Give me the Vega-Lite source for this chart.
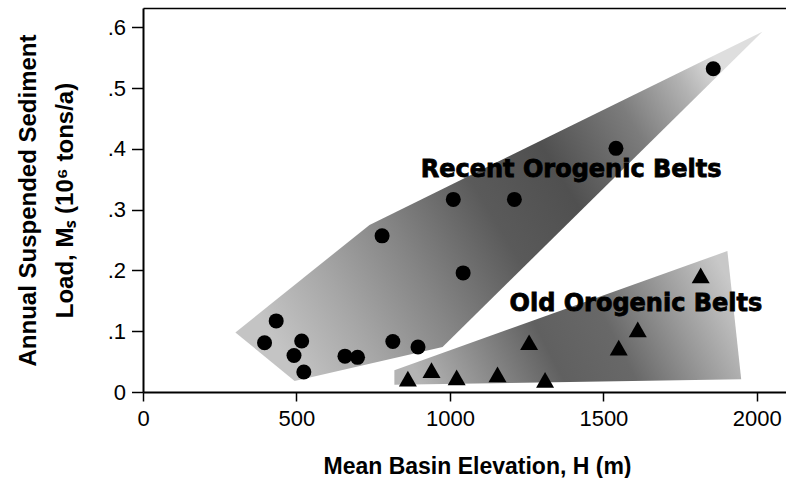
{
  "$schema": "https://vega.github.io/schema/vega-lite/v6.json",
  "width": 643,
  "height": 384,
  "autosize": {"type": "none"},
  "padding": {"left": 143, "top": 8, "right": 0, "bottom": 86},
  "background": "white",
  "config": {
    "view": {"stroke": null},
    "axis": {
      "grid": false,
      "domainColor": "black",
      "domainWidth": 2,
      "tickColor": "black",
      "tickWidth": 1.5,
      "labelFont": "Liberation Sans",
      "labelColor": "black",
      "labelFontSize": 22,
      "titleFont": "Liberation Sans",
      "titleFontWeight": "bold",
      "titleColor": "black"
    }
  },
  "resolve": {"axis": {"x": "independent"}},
  "datasets": {
    "outlines": [
      {"belt": "Recent", "vertex": 1, "x": 301, "y": 0.098},
      {"belt": "Recent", "vertex": 2, "x": 738, "y": 0.275},
      {"belt": "Recent", "vertex": 3, "x": 2018, "y": 0.593},
      {"belt": "Recent", "vertex": 4, "x": 976, "y": 0.074},
      {"belt": "Recent", "vertex": 5, "x": 494, "y": 0.018},
      {"belt": "Old", "vertex": 1, "x": 819, "y": 0.036},
      {"belt": "Old", "vertex": 2, "x": 1904, "y": 0.232},
      {"belt": "Old", "vertex": 3, "x": 1949, "y": 0.021},
      {"belt": "Old", "vertex": 4, "x": 819, "y": 0.012}
    ],
    "samples": [
      {"belt": "Recent", "x": 396, "y": 0.081},
      {"belt": "Recent", "x": 434, "y": 0.117},
      {"belt": "Recent", "x": 492, "y": 0.060},
      {"belt": "Recent", "x": 517, "y": 0.084},
      {"belt": "Recent", "x": 524, "y": 0.033},
      {"belt": "Recent", "x": 658, "y": 0.059},
      {"belt": "Recent", "x": 699, "y": 0.057},
      {"belt": "Recent", "x": 814, "y": 0.083},
      {"belt": "Recent", "x": 896, "y": 0.074},
      {"belt": "Recent", "x": 779, "y": 0.257},
      {"belt": "Recent", "x": 1011, "y": 0.317},
      {"belt": "Recent", "x": 1043, "y": 0.196},
      {"belt": "Recent", "x": 1210, "y": 0.317},
      {"belt": "Recent", "x": 1541, "y": 0.401},
      {"belt": "Recent", "x": 1858, "y": 0.532},
      {"belt": "Old", "x": 863, "y": 0.022},
      {"belt": "Old", "x": 940, "y": 0.036},
      {"belt": "Old", "x": 1022, "y": 0.024},
      {"belt": "Old", "x": 1155, "y": 0.029},
      {"belt": "Old", "x": 1310, "y": 0.020},
      {"belt": "Old", "x": 1258, "y": 0.082},
      {"belt": "Old", "x": 1550, "y": 0.073},
      {"belt": "Old", "x": 1612, "y": 0.103},
      {"belt": "Old", "x": 1817, "y": 0.192}
    ],
    "labels": [
      {"label": "Recent Orogenic Belts", "x": 1395, "y": 0.354},
      {"label": "Old Orogenic Belts", "x": 1606, "y": 0.133}
    ]
  },
  "layer": [
    {
      "data": {"name": "outlines"},
      "transform": [{"filter": "datum.belt === 'Recent'"}],
      "mark": {
        "type": "line",
        "interpolate": "linear-closed",
        "strokeWidth": 0,
        "strokeOpacity": 0,
        "fill": {
          "gradient": "linear",
          "x1": 0, "y1": 0.7, "x2": 1, "y2": 0.3,
          "stops": [
            {"offset": 0, "color": "#c4c4c4"},
            {"offset": 0.15, "color": "#a6a6a6"},
            {"offset": 0.3, "color": "#858585"},
            {"offset": 0.48, "color": "#5a5a5a"},
            {"offset": 0.63, "color": "#505050"},
            {"offset": 0.8, "color": "#7c7c7c"},
            {"offset": 0.92, "color": "#b2b2b2"},
            {"offset": 1, "color": "#dedede"}
          ]
        }
      },
      "encoding": {
        "x": {
          "field": "x", "type": "quantitative",
          "scale": {"domain": [0, 2095], "nice": false, "zero": false},
          "axis": {
            "orient": "bottom",
            "values": [0, 500, 1000, 1500, 2000],
            "format": "d",
            "tickSize": 9,
            "labelPadding": 7,
            "labelFlush": false,
            "labelOverlap": false,
            "title": "Mean Basin Elevation, H (m)",
            "titleFontSize": 23,
            "titleX": 334,
            "titleY": 81,
            "titleAlign": "center",
            "titleBaseline": "alphabetic"
          }
        },
        "y": {
          "field": "y", "type": "quantitative",
          "scale": {"domain": [0, 0.632], "nice": false, "zero": false},
          "axis": {
            "values": [0, 0.1, 0.2, 0.3, 0.4, 0.5, 0.6],
            "labelExpr": "datum.value == 0 ? '0' : replace(format(datum.value, '.1f'), '0.', '.')",
            "tickSize": 11.5,
            "labelPadding": 6,
            "labelFlush": false,
            "labelOverlap": false,
            "title": ["Annual Suspended Sediment", "Load, Mₛ (10⁶ tons/a)"],
            "titleFontSize": 24,
            "titleLineHeight": 37,
            "titleAngle": 270,
            "titleX": -108,
            "titleY": 192,
            "titleAlign": "center",
            "titleBaseline": "alphabetic"
          }
        },
        "order": {"field": "vertex", "type": "quantitative"}
      }
    },
    {
      "data": {"name": "outlines"},
      "transform": [{"filter": "datum.belt === 'Old'"}],
      "mark": {
        "type": "line",
        "interpolate": "linear-closed",
        "strokeWidth": 0,
        "strokeOpacity": 0,
        "fill": {
          "gradient": "linear",
          "x1": 0, "y1": 0.6, "x2": 1, "y2": 0.4,
          "stops": [
            {"offset": 0, "color": "#b4b4b4"},
            {"offset": 0.2, "color": "#8a8a8a"},
            {"offset": 0.4, "color": "#606060"},
            {"offset": 0.6, "color": "#686868"},
            {"offset": 0.8, "color": "#999999"},
            {"offset": 1, "color": "#c8c8c8"}
          ]
        }
      },
      "encoding": {
        "x": {"field": "x", "type": "quantitative", "axis": null},
        "y": {"field": "y", "type": "quantitative"},
        "order": {"field": "vertex", "type": "quantitative"}
      }
    },
    {
      "data": {"name": "labels"},
      "mark": {
        "type": "text",
        "font": "DejaVu Sans",
        "fontWeight": "bold",
        "fontSize": 24,
        "align": "center",
        "baseline": "alphabetic",
        "color": "black",
        "stroke": "black",
        "strokeWidth": 0.8
      },
      "encoding": {
        "x": {
          "field": "x", "type": "quantitative",
          "axis": {
            "orient": "top",
            "labels": false,
            "ticks": false,
            "title": null,
            "domainWidth": 1.5
          }
        },
        "y": {"field": "y", "type": "quantitative"},
        "text": {"field": "label"}
      }
    },
    {
      "data": {"name": "samples"},
      "mark": {"type": "point", "filled": true, "opacity": 1, "color": "black", "strokeWidth": 0},
      "encoding": {
        "x": {"field": "x", "type": "quantitative", "axis": null},
        "y": {"field": "y", "type": "quantitative"},
        "shape": {
          "field": "belt", "type": "nominal",
          "scale": {"domain": ["Recent", "Old"], "range": ["circle", "triangle-up"]},
          "legend": null
        },
        "size": {
          "field": "belt", "type": "nominal",
          "scale": {"domain": ["Recent", "Old"], "range": [225, 324]},
          "legend": null
        }
      }
    }
  ]
}
